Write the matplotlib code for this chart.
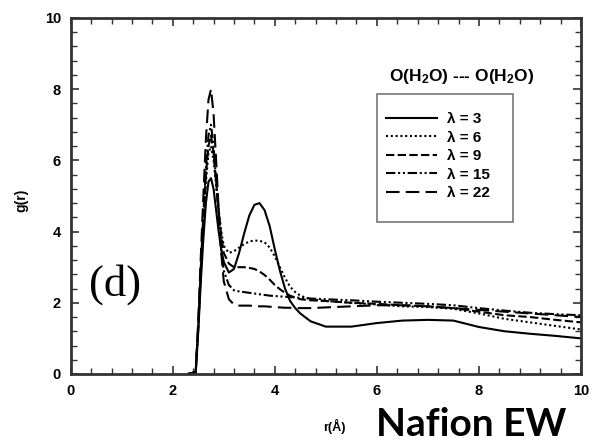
import matplotlib
matplotlib.use("Agg")
import matplotlib.pyplot as plt
from matplotlib.ticker import MultipleLocator
from matplotlib.patches import Rectangle

plt.rcParams['font.family'] = ['Liberation Sans', 'DejaVu Sans']
plt.rcParams['mathtext.fontset'] = 'custom'
plt.rcParams['mathtext.rm'] = 'Liberation Sans:bold'
plt.rcParams['mathtext.bf'] = 'Liberation Sans:bold'
plt.rcParams['mathtext.it'] = 'Liberation Sans:bold'

r = [2.3, 2.45, 2.5, 2.55, 2.6, 2.65, 2.7, 2.75, 2.8, 2.85, 2.9, 2.95, 3.0, 3.1, 3.2,
     3.3, 3.4, 3.5, 3.6, 3.7, 3.8, 3.9, 4.0, 4.1, 4.2, 4.3, 4.4, 4.5, 4.7, 5.0,
     5.5, 6.0, 6.5, 7.0, 7.5, 8.0, 8.5, 9.0, 9.5, 10.0]

g_l3 = [0, 0.05, 1.2, 2.6, 3.8, 4.8, 5.4, 5.5, 5.2, 4.6, 4.0, 3.5, 3.15, 2.85, 2.95,
        3.4, 3.95, 4.45, 4.75, 4.8, 4.6, 4.15, 3.5, 2.9, 2.4, 2.05, 1.85, 1.7, 1.48, 1.33,
        1.33, 1.43, 1.5, 1.52, 1.5, 1.32, 1.2, 1.13, 1.07, 1.0]
g_l6 = [0, 0.05, 1.3, 2.8, 4.2, 5.4, 6.2, 6.4, 6.0, 5.3, 4.6, 4.0, 3.6, 3.4, 3.45,
        3.55, 3.65, 3.72, 3.75, 3.74, 3.7, 3.55, 3.3, 3.0, 2.7, 2.45, 2.3, 2.2, 2.1, 2.05,
        2.0, 1.95, 1.9, 1.88, 1.83, 1.7, 1.55, 1.45, 1.35, 1.25]
g_l9 = [0, 0.05, 1.3, 2.9, 4.3, 5.6, 6.4, 6.7, 6.2, 5.4, 4.6, 3.9, 3.4, 3.1, 3.0,
        3.0, 3.0, 2.98, 2.95, 2.88, 2.78, 2.65, 2.5, 2.38, 2.28, 2.2, 2.15, 2.1, 2.07, 2.05,
        2.0, 1.97, 1.93, 1.9, 1.85, 1.75, 1.65, 1.6, 1.52, 1.45]
g_l15 = [0, 0.05, 1.4, 3.0, 4.5, 5.8, 6.7, 7.0, 6.4, 5.4, 4.4, 3.5, 2.9, 2.5, 2.35,
         2.32, 2.3, 2.28, 2.26, 2.24, 2.22, 2.2, 2.19, 2.18, 2.17, 2.16, 2.15, 2.14, 2.12, 2.1,
         2.07, 2.03, 2.0, 1.97, 1.93, 1.85, 1.78, 1.72, 1.68, 1.65]
g_l22 = [0, 0.05, 1.5, 3.3, 5.0, 6.6, 7.7, 8.0, 7.3, 6.0, 4.6, 3.4, 2.6, 2.1, 1.95,
         1.92, 1.92, 1.92, 1.91, 1.9, 1.9, 1.89, 1.88, 1.87, 1.86, 1.86, 1.85, 1.85, 1.85, 1.87,
         1.9, 1.93, 1.93, 1.9, 1.85, 1.8, 1.75, 1.7, 1.65, 1.6]

labels = ['λ = 3', 'λ = 6', 'λ = 9', 'λ = 15', 'λ = 22']
series = [g_l3, g_l6, g_l9, g_l15, g_l22]
styles = ['-', (0, (1, 1.3)), (0, (4, 1.6)), (0, (4.5, 1.3, 1, 1.3, 1, 1.3)), (0, (6.5, 3))]

W, H = 592, 443
fig = plt.figure(figsize=(W / 100, H / 100), dpi=100)
ax = fig.add_axes([0.1194, 0.1558, 0.8620, 0.8036])

for g, lab, ls in zip(series, labels, styles):
    ax.plot(r, g, color='black', linestyle=ls, linewidth=1.5, label=lab)

ax.set_xlim(0, 10)
ax.set_ylim(0, 10)
ax.xaxis.set_major_locator(MultipleLocator(2))
ax.yaxis.set_major_locator(MultipleLocator(2))
ax.xaxis.set_minor_locator(MultipleLocator(0.4))
ax.yaxis.set_minor_locator(MultipleLocator(0.4))
ax.tick_params(which='both', direction='in', top=True, right=True, color='#333333')
ax.tick_params(which='major', length=6, width=1.2, labelsize=10.5, pad=7)
ax.tick_params(which='minor', length=4, width=1.0)
for lab in ax.get_xticklabels() + ax.get_yticklabels():
    lab.set_fontweight('bold')
for sp in ax.spines.values():
    sp.set_linewidth(2)
    sp.set_color('#333333')

leg = ax.legend(loc='upper left', bbox_to_anchor=(386 / W, 1 - 112 / H),
                bbox_transform=fig.transFigure, borderaxespad=0, borderpad=0,
                frameon=False, handlelength=3.33,
                prop={'weight': 'bold', 'size': 11}, labelspacing=0.3,
                handletextpad=0.65)
fig.add_artist(Rectangle((377 / W, 1 - 222 / H), 136 / W, 128 / H,
                         transform=fig.transFigure, fill=False,
                         edgecolor='#777777', linewidth=1.2))

fig.text(462 / W, 1 - 76 / H, r'O(H$_{2}$O) --- O(H$_{2}$O)', ha='center', va='center',
         fontsize=12.5, fontweight='bold')
ax.text(0.87, 2.5, '(d)', fontsize=32, family='Liberation Serif', ha='center', va='center')
fig.text(21 / W, 1 - 200 / H, 'g(r)', rotation=90, ha='center', va='center',
         fontsize=10, fontweight='bold')
fig.text(334 / W, 1 - 426 / H, 'r(Å)', ha='center', va='center',
         fontsize=9, fontweight='bold')
fig.text(376 / W, 1 - 436 / H, 'Nafion EW', ha='left', va='baseline',
         fontsize=28, fontweight='bold', family='Lato')

fig.savefig('out.png', dpi=100)
